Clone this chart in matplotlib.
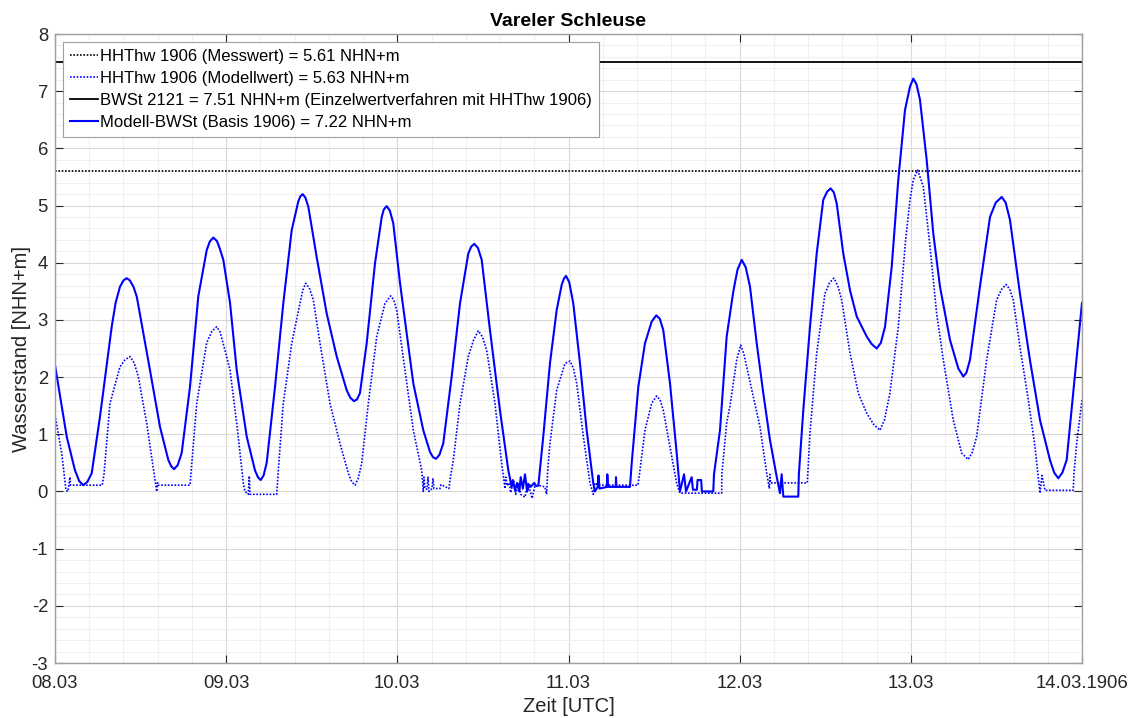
import matplotlib
matplotlib.use("Agg")
import matplotlib.pyplot as plt
import numpy as np

# ---------------- data ----------------
title = "Vareler Schleuse"
xlabel = "Zeit [UTC]"
ylabel = "Wasserstand [NHN+m]"
x_tick_hours = [0, 24, 48, 72, 96, 120, 144]
x_tick_labels = ["08.03", "09.03", "10.03", "11.03", "12.03", "13.03", "14.03.1906"]
y_ticks = [-3, -2, -1, 0, 1, 2, 3, 4, 5, 6, 7, 8]

hhthw_mess = 5.61
bwst_2121 = 7.51

label_mess = "HHThw 1906 (Messwert) = 5.61 NHN+m"
label_modell = "HHThw 1906 (Modellwert) = 5.63 NHN+m"
label_bwst = "BWSt 2121 = 7.51 NHN+m (Einzelwertverfahren mit HHThw 1906)"
label_modell_bwst = "Modell-BWSt (Basis 1906) = 7.22 NHN+m"

# Modell-BWSt (solid blue): hours since 08.03.1906 00:00, water level [NHN+m]
bwst_t = [0.0, 1.64, 2.80, 3.4, 3.97, 4.55, 5.15, 6.31, 7.95, 8.5, 9.11, 9.6, 10.05,
          10.5, 11.0, 11.46, 13.32, 14.72, 15.89, 16.3, 16.69, 17.2, 17.76, 18.93,
          20.09, 21.27, 21.7, 22.20, 22.7, 23.1, 23.60, 24.54, 25.48, 26.88, 28.04,
          28.45, 28.84, 29.25, 29.68, 30.85, 32.01, 33.19, 34.11, 34.4, 34.73, 35.1,
          35.52, 36.69, 38.10, 39.50, 40.90, 41.4, 41.92, 42.35, 42.76, 43.70, 44.87,
          45.81, 46.1, 46.51, 46.95, 47.43, 48.37, 50.24, 51.64, 52.58, 53.0, 53.42,
          53.9, 54.44, 55.62, 56.79, 57.95, 58.35, 58.79, 59.3, 59.83, 60.99, 62.39,
          63.56, 64.03, 64.2, 64.5, 64.8, 65.1, 65.3, 65.6, 65.9, 66.2, 66.5, 66.7,
          67.2, 67.4, 67.77, 68.46, 69.40, 70.34, 71.04, 71.35, 71.65, 72.1, 72.67,
          73.61, 74.55, 75.48, 75.71, 76.09, 76.2, 76.35, 77.40, 77.44, 77.54, 78.62,
          78.66, 78.72, 80.62, 80.86, 81.79, 82.72, 83.66, 84.31, 84.8, 85.29, 86.23,
          87.17, 87.63, 88.2, 88.48, 89.27, 89.45, 90.0, 90.1, 90.6, 90.7, 92.3, 92.4,
          93.24, 94.18, 95.11, 95.7, 96.29, 96.85, 97.45, 98.39, 99.31, 100.25, 101.19,
          101.65, 101.89, 102.12, 104.22, 104.3, 104.92, 105.86, 106.80, 107.72,
          108.25, 108.76, 109.2, 109.6, 110.53, 111.47, 112.41, 113.81, 114.5, 115.21,
          115.8, 116.38, 117.32, 118.24, 119.18, 119.88, 120.34, 120.8, 121.28, 122.22,
          123.15, 124.09, 125.49, 126.66, 127.36, 127.8, 128.29, 129.69, 131.10, 131.9,
          132.74, 133.3, 133.90, 135.30, 136.70, 138.11, 139.51, 140.1, 140.67, 141.25,
          141.85, 142.77, 144.0]
bwst_v = [2.21, 0.96, 0.37, 0.18, 0.11, 0.17, 0.32, 1.31, 2.88, 3.30, 3.58, 3.69, 3.73,
          3.69, 3.58, 3.41, 2.12, 1.13, 0.55, 0.44, 0.39, 0.46, 0.67, 1.83,
          3.41, 4.22, 4.37, 4.44, 4.38, 4.25, 4.05, 3.3, 2.12, 0.96, 0.37,
          0.25, 0.2, 0.28, 0.5, 1.83, 3.29, 4.57, 5.07, 5.16, 5.2, 5.14,
          4.98, 4.1, 3.11, 2.36, 1.77, 1.64, 1.58, 1.61, 1.72, 2.59, 3.99,
          4.8, 4.93, 4.99, 4.91, 4.69, 3.65, 1.89, 1.07, 0.69, 0.6, 0.57,
          0.64, 0.84, 2.01, 3.29, 4.16, 4.28, 4.33, 4.26, 4.05, 2.82, 1.42,
          0.37, 0.08, 0.2, 0.02, 0.15, 0.0, 0.25, 0.05, 0.3, 0.0, 0.12, 0.08,
          0.15, 0.1, 0.1, 0.96, 2.24, 3.17, 3.61, 3.72, 3.77, 3.66, 3.29,
          2.24, 1.07, 0.14, 0.0, 0.08, 0.28, 0.05, 0.08, 0.3, 0.08, 0.08,
          0.25, 0.08, 0.08, 0.49, 1.83, 2.59, 2.97, 3.08, 3.02, 2.82, 1.89,
          0.67, 0.0, 0.3, 0.0, 0.25, 0.03, 0.03, 0.2, 0.2, 0.0, 0.0, 0.3,
          1.07, 2.71, 3.5, 3.88, 4.05, 3.92, 3.58, 2.59, 1.72, 0.9, 0.26,
          -0.03, 0.3, -0.09, -0.09, 0.3, 1.42, 2.88, 4.16, 5.1,
          5.24, 5.3, 5.23, 5.04, 4.16, 3.52, 3.06, 2.71, 2.58, 2.5,
          2.6, 2.88, 3.93, 5.45, 6.67, 7.08, 7.22, 7.12, 6.85, 5.8,
          4.51, 3.58, 2.65, 2.15, 2.01, 2.08, 2.3, 3.58, 4.8, 5.05,
          5.15, 5.05, 4.75, 3.46, 2.3, 1.25, 0.55, 0.33, 0.23, 0.33,
          0.55, 1.72, 3.3]

# HHThw 1906 Modellwert (dotted blue)
modell_t = [0.0, 0.94, 1.54, 1.82, 2.10, 2.17, 6.63, 6.87, 7.71, 9.11, 9.8, 10.52, 11.1,
            11.68, 12.86, 14.02, 14.26, 14.37, 14.44, 18.93, 19.87, 21.27, 22.0, 22.67,
            23.14, 24.07, 24.54, 25.48, 26.41, 26.64, 27.10, 27.24, 27.34, 31.09, 31.31,
            32.01, 33.19, 34.35, 34.75, 35.15, 35.65, 36.22, 37.16, 38.56, 39.96, 41.12,
            41.6, 42.06, 42.5, 43.0, 43.93, 45.11, 46.27, 47.07, 47.5, 47.91, 49.07,
            50.24, 51.42, 51.64, 51.74, 51.88, 52.16, 52.3, 52.44, 52.86, 53.0, 53.14,
            53.98, 54.12, 55.24, 55.38, 55.85, 56.79, 57.95, 58.7, 59.35, 59.95, 60.53,
            61.69, 62.63, 63.1, 63.2, 63.4, 63.67, 63.9, 64.3, 64.6, 65.0, 65.3, 65.9,
            66.3, 66.9, 67.3, 68.0, 68.7, 68.93, 69.1, 69.40, 70.34, 71.51, 72.21, 72.7,
            73.15, 74.08, 75.02, 75.48, 75.7, 76.13, 81.74, 82.02, 82.72, 83.66, 84.36,
            84.85, 85.29, 86.23, 87.17, 87.63, 93.48, 93.5, 94.18, 94.65, 95.58, 96.15,
            96.6, 97.18, 98.85, 99.79, 100.16, 100.25, 100.32, 100.39, 105.48, 105.86,
            106.80, 107.96, 108.6, 109.22, 109.75, 110.30, 111.47, 112.63, 113.81, 114.8,
            115.67, 116.3, 117.07, 118.24, 119.27, 119.88, 120.34, 120.96, 121.75,
            122.69, 123.62, 124.55, 125.95, 127.13, 128.05, 128.6, 129.23, 130.63,
            132.03, 132.7, 133.34, 133.85, 134.36, 135.30, 136.47, 137.41, 138.11,
            138.39, 138.81, 142.77, 142.87, 143.25, 144.0]
modell_v = [1.34, 0.67, 0.02, 0.0, 0.25, 0.11, 0.11, 0.3, 1.54, 2.18, 2.3, 2.36, 2.25,
            2.01, 1.19, 0.2, 0.0, 0.15, 0.11, 0.11, 1.54, 2.6, 2.8, 2.88,
            2.79, 2.36, 2.12, 1.19, 0.14, 0.0, -0.05, 0.27, -0.05, -0.05, 0.37,
            1.54, 2.59, 3.29, 3.52, 3.64, 3.56, 3.35, 2.59, 1.54, 0.84, 0.32,
            0.17, 0.11, 0.22, 0.49, 1.54, 2.71, 3.29, 3.42, 3.35, 3.17, 2.12,
            1.07, 0.37, 0.0, 0.25, 0.05, 0.04, 0.25, 0.0, 0.05, 0.22, 0.05,
            0.05, 0.12, 0.05, 0.2, 0.55, 1.54, 2.36, 2.65, 2.81, 2.7, 2.47,
            1.54, 0.49, 0.05, 0.25, 0.1, 0.15, -0.02, 0.2, -0.05, 0.15, -0.05, -0.1,
            0.15, -0.12, 0.1, 0.1, 0.08, -0.05, 0.4, 0.84, 1.77, 2.24, 2.28, 2.15,
            1.89, 0.96, 0.14, -0.05, 0.15, 0.11, 0.11, 0.37, 1.07, 1.54, 1.67,
            1.6, 1.42, 0.78, 0.14, -0.03, -0.03, 0.3, 1.2, 1.5, 2.3, 2.56,
            2.4, 2.07, 1.13, 0.32, 0.05, 0.3, 0.15, 0.15, 0.15, 1.02,
            2.42, 3.46, 3.65, 3.73, 3.6, 3.35, 2.42, 1.72, 1.37, 1.17,
            1.07, 1.25, 1.72, 2.88, 4.4, 5.1, 5.45, 5.62, 5.33,
            4.28, 3.11, 2.3, 1.25, 0.67, 0.56, 0.68, 0.96, 2.3,
            3.35, 3.53, 3.62, 3.54, 3.35, 2.53, 1.6, 0.78, -0.03,
            0.28, 0.02, 0.02, 0.3, 0.84, 1.6]

# ---------------- plot ----------------
plt.rcParams['font.family'] = ['Liberation Sans', 'DejaVu Sans']
plt.rcParams['axes.unicode_minus'] = False

fig = plt.figure(figsize=(11.31, 7.18), dpi=100)
ax = fig.add_axes([55/1131, 1 - 663/718, 1027/1131, 629/718])

blue = '#0000ff'
l1 = ax.axhline(hhthw_mess, color='black', lw=1.2, linestyle=(0, (1, 1)), label=label_mess)
l2, = ax.plot(modell_t, modell_v, color=blue, lw=1.2, linestyle=(0, (1, 1)),
              label=label_modell)
l3 = ax.axhline(bwst_2121, color='black', lw=1.3, label=label_bwst)
l4, = ax.plot(bwst_t, bwst_v, color=blue, lw=1.5, label=label_modell_bwst,
              solid_joinstyle='round')

ax.set_xlim(0, 144)
ax.set_ylim(-3, 8)
ax.set_xticks(x_tick_hours)
ax.set_xticklabels(x_tick_labels)
ax.set_yticks(y_ticks)
ax.set_xticks(np.arange(0, 144.01, 4.8), minor=True)
ax.set_yticks(np.arange(-3, 8.001, 0.2), minor=True)

ax.grid(True, which='major', color='#d9d9d9', lw=0.8)
ax.grid(True, which='minor', color='#ececec', lw=0.6)
ax.set_axisbelow(True)

ax.tick_params(which='major', direction='in', length=6, width=0.8, colors='#262626',
               labelsize=13.3, top=True, right=True)
ax.tick_params(axis='x', which='major', pad=9)
ax.tick_params(axis='y', which='major', pad=5)
ax.tick_params(which='minor', length=0)
for s in ax.spines.values():
    s.set_color('#a0a0a0')
    s.set_linewidth(1.0)

ax.set_title(title, fontsize=14, fontweight='bold', pad=6)
ax.set_xlabel(xlabel, fontsize=14.5, color='#262626', labelpad=3)
ax.set_ylabel(ylabel, fontsize=14.5, color='#262626', labelpad=0)

leg = ax.legend(handles=[l1, l2, l3, l4], loc='upper left', fontsize=12,
                frameon=True, fancybox=False, framealpha=1, edgecolor='#a0a0a0',
                borderpad=0.42, labelspacing=0.42, handlelength=1.7, handletextpad=0.15,
                borderaxespad=0.45)
leg.get_frame().set_linewidth(0.8)

fig.savefig('out.png', dpi=100)
